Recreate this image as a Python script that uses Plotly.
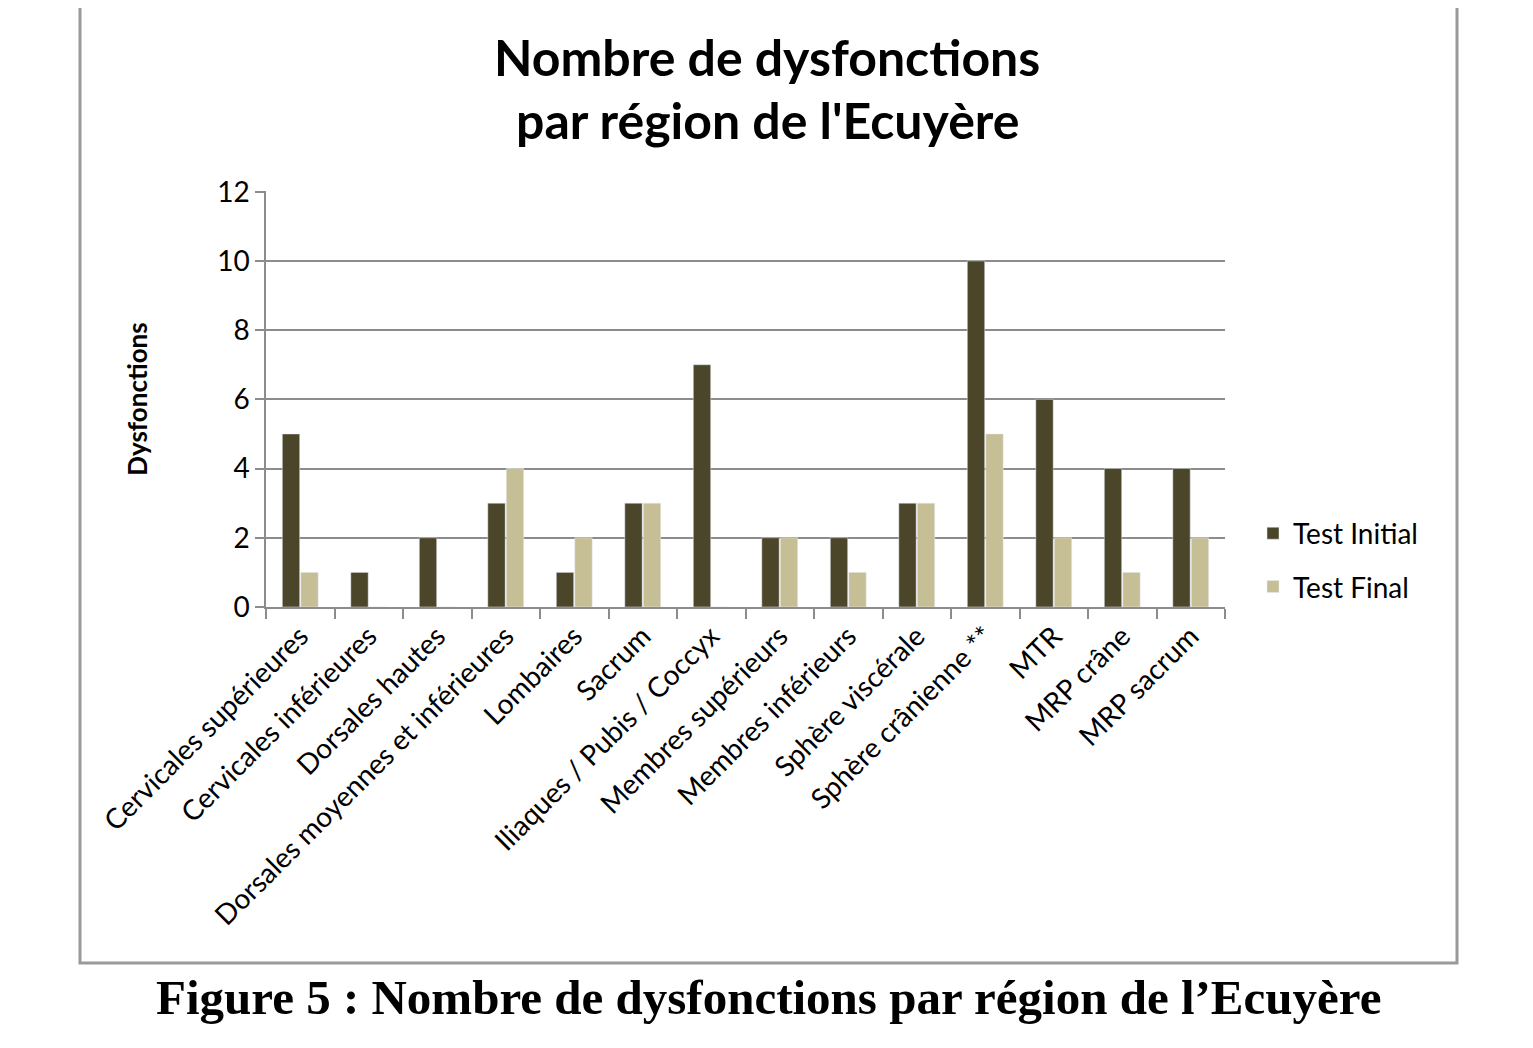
import plotly.graph_objects as go

categories = [
    "Cervicales supérieures", "Cervicales inférieures", "Dorsales hautes",
    "Dorsales moyennes et inférieures", "Lombaires", "Sacrum",
    "Iliaques / Pubis / Coccyx", "Membres supérieurs", "Membres inférieurs",
    "Sphère viscérale", "Sphère crânienne **", "MTR", "MRP crâne", "MRP sacrum",
]
test_initial = [5, 1, 2, 3, 1, 3, 7, 2, 2, 3, 10, 6, 4, 4]
test_final = [1, 0, 0, 4, 2, 3, 0, 2, 1, 3, 5, 2, 1, 2]
y_ticks = [0, 2, 4, 6, 8, 10, 12]

W, H = 1533, 1048
OFF = 8  # page body margin
L, R, T, B = 266 - OFF, 1225 - OFF, 191 - OFF, 607 - OFF


def px(x):
    return (x - OFF - L) / (R - L)


def py(y):
    return (B - (y - OFF)) / (B - T)


fig = go.Figure()
fig.add_trace(go.Bar(x=categories, y=test_initial, name="Test Initial",
                     marker_color="#4B4529", legendgroup="a"))
fig.add_trace(go.Bar(x=categories, y=test_final, name="Test Final",
                     marker_color="#C6BE95", legendgroup="b"))

fig.update_layout(
    width=W, height=H,
    margin=dict(l=L, r=W - R, t=T, b=H - B),
    paper_bgcolor="white", plot_bgcolor="white",
    font=dict(family="Lato, Open Sans, sans-serif", color="black"),
    barmode="group", bargap=0.46, bargroupgap=0.06,
    showlegend=True,
    legend=dict(x=px(1253), y=py(560), xanchor="left", yanchor="middle",
                font=dict(size=28), tracegroupgap=14, bgcolor="rgba(0,0,0,0)"),
    xaxis=dict(
        type="category", tickangle=-45, tickson="boundaries",
        ticks="outside", ticklen=10, tickcolor="#8c8c8c", tickwidth=1.5,
        showline=True, linecolor="#8c8c8c", linewidth=1.5,
        tickfont=dict(size=28), showgrid=False,
    ),
    yaxis=dict(
        range=[0, 12.02], tickvals=y_ticks, ticks="outside", ticklen=9,
        tickcolor="#8c8c8c", tickwidth=1.5,
        showline=True, linecolor="#8c8c8c", linewidth=1.5,
        gridcolor="#8c8c8c", gridwidth=1.5, zeroline=False,
        tickfont=dict(size=28),
        title=dict(text="<b>Dysfonctions</b>", font=dict(size=26), standoff=62),
    ),
    shapes=[dict(type="rect", xref="paper", yref="paper",
                 x0=px(80), x1=px(1457), y0=py(963), y1=py(-10),
                 line=dict(color="#9a9a9a", width=3), fillcolor="rgba(0,0,0,0)",
                 layer="below")],
    annotations=[
        dict(text="<b>Nombre de dysfonctions</b>", xref="paper", yref="paper",
             x=px(767), y=py(57), xanchor="center", yanchor="middle",
             showarrow=False, font=dict(size=50)),
        dict(text="<b>par région de l'Ecuyère</b>", xref="paper", yref="paper",
             x=px(767), y=py(120), xanchor="center", yanchor="middle",
             showarrow=False, font=dict(size=50)),
        dict(text="<b>Figure 5 : Nombre de dysfonctions par région de l’Ecuyère</b>",
             xref="paper", yref="paper", x=px(768), y=py(997),
             xanchor="center", yanchor="middle", showarrow=False,
             font=dict(size=49, family="Liberation Serif, serif")),
    ],
)

fig.write_html("out.html")
